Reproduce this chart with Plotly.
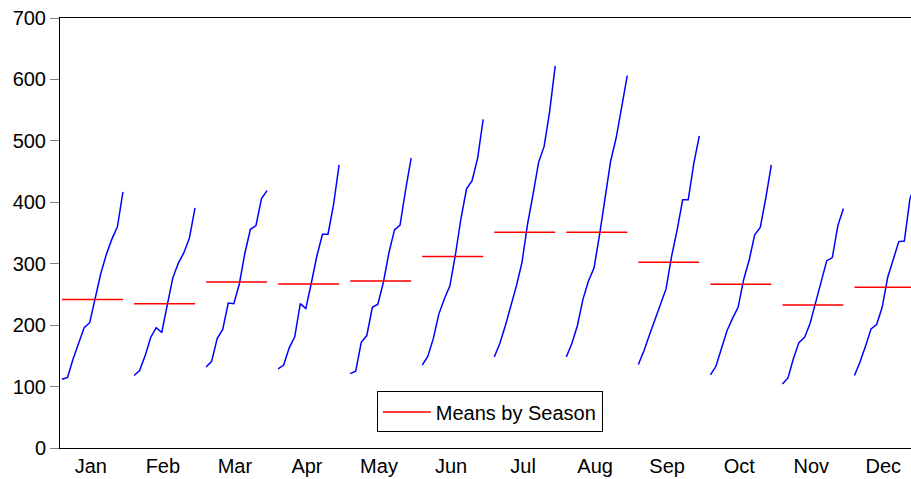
import plotly.graph_objects as go

# Monthly airline passengers (thousands), 1949-1960
months = ["Jan", "Feb", "Mar", "Apr", "May", "Jun",
          "Jul", "Aug", "Sep", "Oct", "Nov", "Dec"]
years = list(range(1949, 1961))
passengers = [
    [112, 118, 132, 129, 121, 135, 148, 148, 136, 119, 104, 118],  # 1949
    [115, 126, 141, 135, 125, 149, 170, 170, 158, 133, 114, 140],  # 1950
    [145, 150, 178, 163, 172, 178, 199, 199, 184, 162, 146, 166],  # 1951
    [171, 180, 193, 181, 183, 218, 230, 242, 209, 191, 172, 194],  # 1952
    [196, 196, 236, 235, 229, 243, 264, 272, 237, 211, 180, 201],  # 1953
    [204, 188, 235, 227, 234, 264, 302, 293, 259, 229, 203, 229],  # 1954
    [242, 233, 267, 269, 270, 315, 364, 347, 312, 274, 237, 278],  # 1955
    [284, 277, 317, 313, 318, 374, 413, 405, 355, 306, 271, 306],  # 1956
    [315, 301, 356, 348, 355, 422, 465, 467, 404, 347, 305, 336],  # 1957
    [340, 318, 362, 348, 363, 435, 491, 505, 404, 359, 310, 337],  # 1958
    [360, 342, 406, 396, 420, 472, 548, 559, 463, 407, 362, 405],  # 1959
    [417, 391, 419, 461, 472, 535, 622, 606, 508, 461, 390, 432],  # 1960
]
y_ticks = [0, 100, 200, 300, 400, 500, 600, 700]

n_years = len(years)
slot = n_years + 1  # one empty slot between seasons

series_x, series_y = [], []
mean_x, mean_y = [], []
for m in range(len(months)):
    vals = [passengers[k][m] for k in range(n_years)]
    xs = [m * slot + k for k in range(n_years)]
    series_x += xs + [None]
    series_y += vals + [None]
    avg = sum(vals) / n_years
    mean_x += [xs[0], xs[-1], None]
    mean_y += [avg, avg, None]

fig = go.Figure()
fig.add_trace(go.Scatter(
    x=series_x, y=series_y, mode="lines",
    line=dict(color="#0000ff", width=1.5),
    showlegend=False, hoverinfo="skip", connectgaps=False,
))
fig.add_trace(go.Scatter(
    x=mean_x, y=mean_y, mode="lines",
    line=dict(color="#ff0000", width=1.5),
    name="Means by Season", connectgaps=False,
))

font = dict(family="Liberation Sans, Arial, sans-serif", size=20, color="#000000")

fig.update_layout(
    width=911, height=479,
    margin=dict(l=60, r=0, t=18, b=31),
    paper_bgcolor="white", plot_bgcolor="white",
    font=font,
    showlegend=True,
    legend=dict(
        x=0.505, y=0.084, xanchor="center", yanchor="middle",
        bordercolor="#000000", borderwidth=1, bgcolor="white",
        font=font, itemwidth=48,
    ),
    xaxis=dict(
        range=[-0.36, 153.2],
        tickmode="array",
        tickvals=[m * slot + 5.2 for m in range(len(months))],
        ticktext=months,
        ticks="", showgrid=False, zeroline=False,
        showline=True, linecolor="#000000", linewidth=1, mirror=True,
        tickfont=font,
    ),
    yaxis=dict(
        range=[0, 700],
        tickmode="array", tickvals=y_ticks,
        ticks="outside", ticklen=9, tickcolor="#808080", tickwidth=1,
        showgrid=False, zeroline=False,
        showline=True, linecolor="#000000", linewidth=1,
        tickfont=font,
    ),
)

fig.write_html("out.html")
